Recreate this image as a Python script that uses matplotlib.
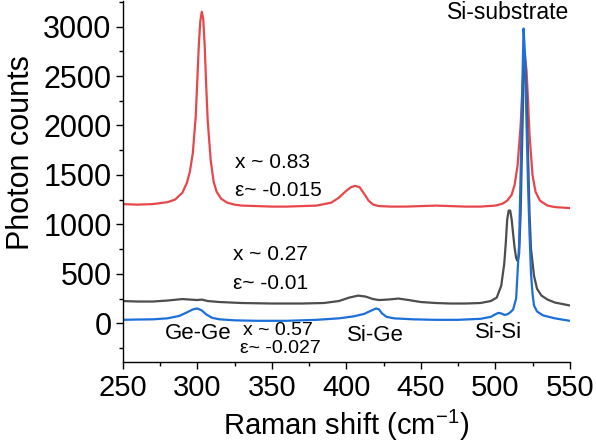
import numpy as np
import matplotlib
matplotlib.use("Agg")
import matplotlib.pyplot as plt
from matplotlib.ticker import MultipleLocator

plt.rcParams['font.family'] = ['Liberation Sans', 'DejaVu Sans']
plt.rcParams['mathtext.fontset'] = 'custom'
plt.rcParams['mathtext.rm'] = 'Liberation Sans'

# x ~ 0.83 spectrum (red)
red_x = [250, 260, 270, 280, 285, 290, 293, 295, 297, 299, 300, 301, 302, 303, 304, 305, 306, 307,
         309, 311, 313, 316, 320, 325, 330, 340, 350, 360, 370, 380, 390, 395, 400, 403, 406, 409,
         412, 415, 418, 422, 430, 440, 450, 460, 470, 480, 490, 500, 505, 508, 511, 513, 515, 517,
         518, 519, 520, 521, 522, 523, 525, 527, 530, 535, 540, 545, 550]
red_y = [1205, 1200, 1205, 1225, 1250, 1320, 1420, 1530, 1720, 2100, 2450, 2800, 3050, 3150, 3080,
         2800, 2400, 2050, 1650, 1430, 1330, 1260, 1220, 1200, 1190, 1185, 1180, 1180, 1185, 1190,
         1220, 1270, 1340, 1375, 1390, 1375, 1310, 1240, 1200, 1185, 1180, 1180, 1185, 1190, 1185,
         1180, 1180, 1190, 1210, 1240, 1300, 1400, 1600, 2000, 2300, 2600, 2700, 2550, 2250, 1900,
         1500, 1330, 1240, 1190, 1175, 1170, 1165]

# x ~ 0.27 spectrum (gray)
gray_x = [250, 260, 270, 280, 290, 295, 300, 303, 307, 315, 330, 350, 370, 385, 395, 402, 408, 413,
          418, 422, 428, 435, 442, 450, 460, 470, 480, 490, 497, 501, 504, 506, 507, 508, 509, 510,
          511, 512, 513, 514, 515, 516, 517, 518, 519, 520, 521, 522, 523, 524, 526, 528, 531, 535,
          540, 545, 550]
gray_y = [225, 220, 220, 230, 245, 240, 235, 240, 225, 215, 205, 200, 200, 205, 225, 260, 280, 270,
          245, 235, 240, 250, 235, 215, 205, 200, 200, 205, 225, 260, 380, 600, 800, 1050, 1140, 1140,
          1050, 900, 760, 660, 630, 700, 1100, 1800, 2500, 2650, 2300, 1700, 1100, 750, 480, 350, 280,
          240, 210, 195, 180]

# x ~ 0.57 spectrum (blue)
blue_x = [250, 260, 270, 280, 288, 293, 297, 300, 303, 306, 310, 315, 325, 340, 360, 380, 395, 405,
          412, 417, 420, 422, 424, 427, 432, 445, 460, 475, 490, 497, 500, 502, 504, 506, 508, 510,
          512, 514, 516, 517, 518, 519, 520, 521, 522, 523, 524, 525, 526, 528, 532, 540, 550]
blue_y = [35, 38, 40, 50, 75, 110, 140, 150, 130, 90, 55, 40, 30, 25, 25, 35, 50, 70,
          95, 130, 150, 140, 100, 65, 50, 40, 35, 35, 45, 65, 90, 105, 100, 85, 90, 110,
          140, 250, 800, 1500, 2300, 2980, 2700, 2000, 1400, 900, 500, 300, 180, 120, 80, 50, 25]

fig = plt.figure(figsize=(5.96, 4.44), dpi=100)
ax = fig.add_axes([0.206, 0.185, 0.750, 0.813])

lw = 1.6
ax.plot(red_x, red_y, color='#e8474a', lw=lw)
ax.plot(gray_x, gray_y, color='#4d4d4d', lw=lw)
ax.plot(blue_x, blue_y, color='#1c6fd8', lw=lw)

ax.set_xlim(250, 550)
ax.set_ylim(-390, 3260)
ax.xaxis.set_major_locator(MultipleLocator(50))
ax.xaxis.set_minor_locator(MultipleLocator(25))
ax.yaxis.set_major_locator(MultipleLocator(500))
ax.yaxis.set_minor_locator(MultipleLocator(250))

for s in ['top', 'right']:
    ax.spines[s].set_visible(False)
for s in ['left', 'bottom']:
    ax.spines[s].set_linewidth(1.0)

ax.tick_params(which='major', direction='out', length=5, width=1.0)
ax.tick_params(which='minor', direction='out', length=3, width=1.0)
ax.tick_params(axis='x', labelsize=21, pad=4)
ax.tick_params(axis='y', labelsize=22, pad=3)

ax.set_xlabel(r'Raman shift (cm$^{\mathregular{-1}}$)', fontsize=21)
ax.set_ylabel('Photon counts', fontsize=22)
ax.yaxis.set_label_coords(-0.195, 0.58)

# annotations
ax.text(325, 1630, 'x ~ 0.83', fontsize=15, va='center')
ax.text(325, 1346, 'ε~ -0.015', fontsize=15, va='center')
ax.text(324, 698, 'x ~ 0.27', fontsize=15, va='center')
ax.text(324, 405, 'ε~ -0.01', fontsize=15, va='center')
ax.text(278, -101, 'Ge-Ge', fontsize=16, va='center')
ax.text(330.5, -71, 'x ~ 0.57', fontsize=14, va='center')
ax.text(328.5, -253, 'ε~ -0.027', fontsize=14, va='center')
ax.text(419.5, -121, 'Si-Ge', fontsize=16, va='center', ha='center')
ax.text(502, -91, 'Si-Si', fontsize=16, va='center', ha='center')
ax.text(508.5, 3138, 'Si-substrate', fontsize=16.5, va='center', ha='center')

fig.savefig('out.png', dpi=100)
